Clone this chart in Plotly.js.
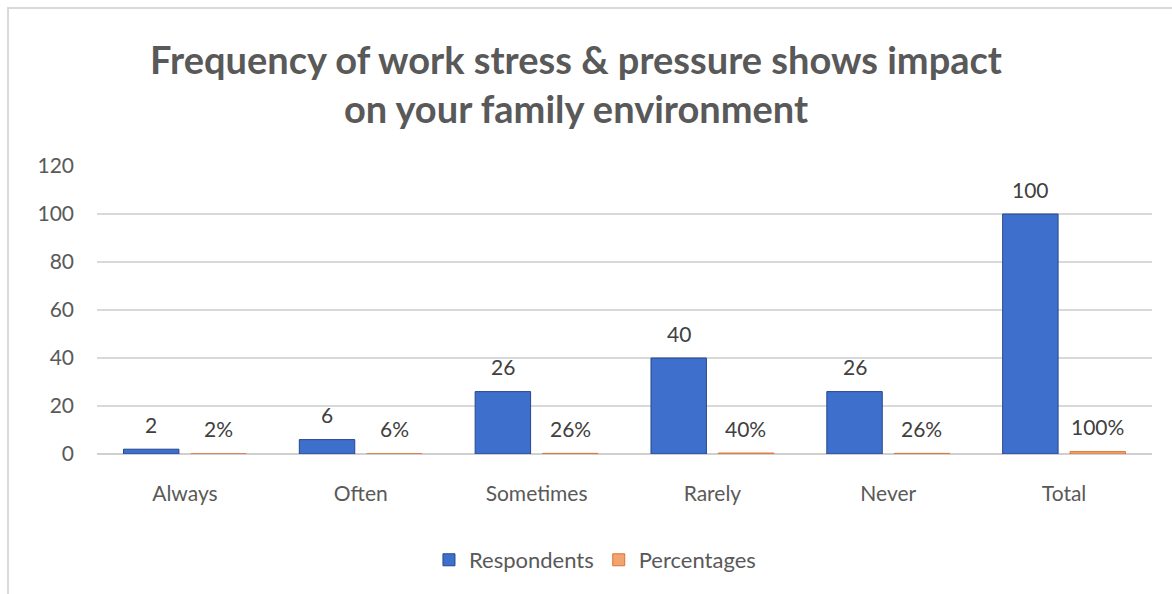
<!DOCTYPE html>
<html>
<head>
<meta charset="utf-8">
<script src="https://cdn.plot.ly/plotly-3.0.1.min.js"></script>
<style>html,body{margin:0;padding:0;background:#fff;}#chart{width:1172px;height:594px;}</style>
</head>
<body>
<div id="chart"></div>
<script>
var categories = ["Always", "Often", "Sometimes", "Rarely", "Never", "Total"];
var respondents = [2, 6, 26, 40, 26, 100];
var percentages = [0.02, 0.06, 0.26, 0.40, 0.26, 1.00];
var percentLabels = ["2%", "6%", "26%", "40%", "26%", "100%"];
var yTicks = [0, 20, 40, 60, 80, 100, 120];

var FONT = "Lato, 'Open Sans', sans-serif";
var GRAY = "#595959";

var traces = [
  {
    type: "bar", name: "Respondents", x: categories, y: respondents,
    marker: {color: "#3F6FCC", line: {color: "#25478C", width: 1}},
    hoverinfo: "x+y"
  },
  {
    type: "bar", name: "Percentages", x: categories, y: percentages,
    marker: {color: "#F2A46F", line: {color: "#D9743A", width: 1}},
    hoverinfo: "x+y"
  }
];

var annotations = [];
categories.forEach(function (c, i) {
  annotations.push({x: c, y: respondents[i], xref: "x", yref: "y", text: String(respondents[i]),
    showarrow: false, xshift: -33.5, yshift: 25, yanchor: "middle",
    font: {family: FONT, size: 21, color: "#404040"}});
  annotations.push({x: c, y: percentages[i], xref: "x", yref: "y", text: percentLabels[i],
    showarrow: false, xshift: 33.5, yshift: 25, yanchor: "middle",
    font: {family: FONT, size: 21, color: "#404040"}});
});

var layout = {
  width: 1172, height: 594,
  margin: {l: 97, r: 20, t: 166, b: 140, pad: 0},
  paper_bgcolor: "#ffffff", plot_bgcolor: "#ffffff",
  font: {family: FONT, color: GRAY, size: 21},
  title: {
    text: "<b>Frequency of work stress &amp; pressure shows impact<br>on your family environment</b>",
    x: 0.4915, xanchor: "center", y: 0.876, yanchor: "middle",
    font: {family: FONT, size: 38, color: GRAY}
  },
  barmode: "group", bargap: 0.233, bargroupgap: 0.178,
  xaxis: {
    type: "category", showgrid: false, showline: false, zeroline: false,
    ticks: "", ticklabelstandoff: 25, tickfont: {family: FONT, size: 21, color: GRAY}
  },
  yaxis: {
    range: [0, 120], tickvals: yTicks, ticktext: yTicks.map(String),
    showgrid: true, gridcolor: "#d9d9d9", gridwidth: 1.5,
    zeroline: true, zerolinecolor: "#d0d0d0", zerolinewidth: 2,
    showline: false, ticks: "", ticklabelstandoff: 22,
    tickfont: {family: FONT, size: 21, color: GRAY}
  },
  legend: {
    orientation: "h", x: 0.472, xanchor: "center", y: -0.368, yanchor: "middle",
    font: {family: FONT, size: 22, color: GRAY}, itemwidth: 30, tracegroupgap: 0
  },
  annotations: annotations,
  shapes: [
    {type: "rect", xref: "paper", yref: "paper",
     x0: (8 - 97) / 1055, x1: (1195 - 97) / 1055,
     y0: (454 - 610) / 288, y1: (454 - 8) / 288,
     line: {color: "#d9d9d9", width: 2}, fillcolor: "rgba(0,0,0,0)", layer: "below"}
  ]
};

Plotly.newPlot("chart", traces, layout, {displayModeBar: false, staticPlot: true});
</script>
</body>
</html>
